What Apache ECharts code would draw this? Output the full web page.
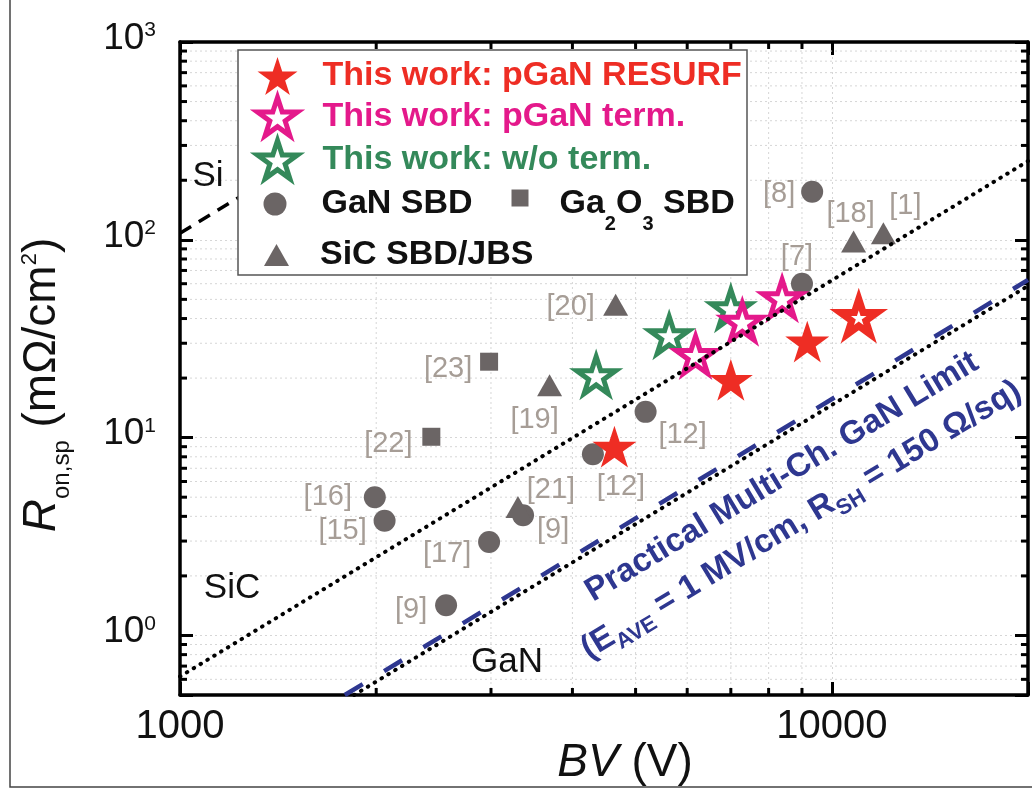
<!DOCTYPE html>
<html>
<head>
<meta charset="utf-8">
<title>Ron,sp vs BV</title>
<script src="https://cdn.jsdelivr.net/npm/echarts@6/dist/echarts.min.js"></script>
<style>
  html, body { margin: 0; padding: 0; background: #fff; }
  #main { width: 1032px; height: 790px; }
</style>
</head>
<body>
<div id="main"></div>
<script>
// data: [BV (V), Ron,sp (mOhm cm2)]
var resurfPts = [[4640, 9.0], [7000, 19.6], [9170, 30.6], [11000, 40.9]];
var termPts = [[6180, 26.2], [7290, 38.6], [8390, 50.7]];
var noTermPts = [[4350, 20.7], [5630, 33.0], [7000, 45.1]];

var ganSbdPts = [[1990, 5.0], [2060, 3.8], [2560, 1.42], [2980, 2.97], [3360, 4.05], [4300, 8.25], [5180, 13.5], [9000, 60], [9330, 175]];
var ganSbdRefs = ['[16]', '[15]', '[9]', '[17]', '[9]', '[12]', '[12]', '[7]', '[8]'];
var ga2o3Pts = [[2430, 10.1], [2980, 24.2]];
var ga2o3Refs = ['[22]', '[23]'];
var sicPts = [[3300, 4.46], [3690, 18.4], [4660, 46.9], [10800, 98], [12000, 108]];
var sicRefs = ['[21]', '[19]', '[20]', '[18]', '[1]'];

// limit lines (end points)
var siLine = [[1000, 108], [1400, 212]];
var sicLine = [[1000, 0.62], [20000, 250]];
var ganLine = [[1850, 0.5], [20000, 58.5]];
var practicalLine = [[1790, 0.5], [20000, 62.7]];

var xMinorTicks = [2000, 3000, 4000, 5000, 6000, 7000, 8000, 9000];
var yMinorTicks = [0.6, 0.7, 0.8, 0.9, 2, 3, 4, 5, 6, 7, 8, 9, 20, 30, 40, 50, 60, 70, 80, 90, 200, 300, 400, 500, 600, 700, 800, 900];

// label placement (offset from the marker, px)
var ganSbdLabelOff = [[-47, 0], [-42, 10], [-35, 5], [-42, 12], [30, 15], [28, 33], [37, 23], [-5, -27], [-33, 2]];
var ga2o3LabelOff = [[-43, 7], [-41, 7]];
var sicLabelOff = [[33, -17], [-15, 35], [-45, 2], [-3, -28], [22, -27]];
var resurfHollowIdx = 3;

var FONT = '"Liberation Sans", Arial, Helvetica, sans-serif';
var RED = '#ee2d24', MAG = '#e4198b', GRN = '#34895a', GRAY = '#6b6565', REFC = '#a69d96', BLUE = '#2e3790';
var STAR = 'path://M50 0L61.23 34.55L97.55 34.55L68.17 55.9L79.39 90.45L50 69.1L20.61 90.45L31.83 55.9L2.45 34.55L38.77 34.55Z';
var ANG = 31.2 * Math.PI / 180;

function isPow10(v) {
  var l = Math.log10(v);
  return Math.abs(l - Math.round(l)) < 1e-6;
}

function refData(pts, refs, offs) {
  return pts.map(function (p, i) {
    return { value: p, name: refs[i], label: { offset: offs[i] } };
  });
}

function renderXMinor(params, api) {
  var cs = params.coordSys;
  var x = api.coord([api.value(0), api.value(1)])[0];
  var top = cs.y, bot = cs.y + cs.height;
  return { type: 'group', children: [
    { type: 'line', shape: { x1: x, y1: top, x2: x, y2: bot }, style: { stroke: '#d6d6d6', lineWidth: 1, lineDash: [2, 3] } },
    { type: 'line', shape: { x1: x, y1: bot, x2: x, y2: bot - 7 }, style: { stroke: '#000', lineWidth: 3 } },
    { type: 'line', shape: { x1: x, y1: top, x2: x, y2: top + 7 }, style: { stroke: '#000', lineWidth: 3 } }
  ]};
}

function renderYMinor(params, api) {
  var cs = params.coordSys;
  var y = api.coord([api.value(0), api.value(1)])[1];
  var l = cs.x, r = cs.x + cs.width;
  return { type: 'group', children: [
    { type: 'line', shape: { x1: l, y1: y, x2: r, y2: y }, style: { stroke: '#d6d6d6', lineWidth: 1, lineDash: [2, 3] } },
    { type: 'line', shape: { x1: l, y1: y, x2: l + 7, y2: y }, style: { stroke: '#000', lineWidth: 3 } },
    { type: 'line', shape: { x1: r, y1: y, x2: r - 7, y2: y }, style: { stroke: '#000', lineWidth: 3 } }
  ]};
}

var refLabel = {
  show: true, position: 'inside', formatter: '{b}',
  color: REFC, fontSize: 29, fontFamily: FONT
};

var axisLineStyle = { color: '#000', width: 3.5 };
var majorTick = { inside: true, length: 13, lineStyle: { color: '#000', width: 3 } };
var gridDots = { show: true, lineStyle: { color: '#d6d6d6', width: 1, type: [2, 3] } };

var legendText = { fontSize: 34, fontWeight: 'bold', fontFamily: FONT, color: '#111' };

var chart = echarts.init(document.getElementById('main'));

var option = {
  animation: false,
  backgroundColor: '#fff',
  grid: { left: 180, right: 4, top: 42, bottom: 95, outerBoundsMode: 'none' },
  xAxis: [
    {
      type: 'log', logBase: 10, min: 1000, max: 20000, position: 'bottom',
      axisLine: { lineStyle: axisLineStyle },
      axisTick: majorTick,
      splitLine: gridDots,
      axisLabel: {
        margin: 12, fontSize: 40, fontFamily: FONT, color: '#111',
        formatter: function (v) { return isPow10(v) ? String(Math.round(v)) : ''; }
      }
    },
    {
      type: 'log', logBase: 10, min: 1000, max: 20000, position: 'top',
      axisLine: { lineStyle: axisLineStyle },
      axisTick: majorTick,
      axisLabel: { show: false },
      splitLine: { show: false }
    }
  ],
  yAxis: [
    {
      type: 'log', logBase: 10, min: 0.5, max: 1000, position: 'left',
      axisLine: { lineStyle: axisLineStyle },
      axisTick: majorTick,
      splitLine: gridDots,
      axisLabel: {
        margin: 24, color: '#111',
        formatter: function (v) {
          if (!isPow10(v)) return '';
          return '{b|10}{e|' + Math.round(Math.log10(v)) + '}';
        },
        rich: {
          b: { fontSize: 37, fontFamily: FONT, color: '#111', lineHeight: 44, verticalAlign: 'top' },
          e: { fontSize: 21, fontFamily: FONT, color: '#111', lineHeight: 22, verticalAlign: 'top' }
        }
      }
    },
    {
      type: 'log', logBase: 10, min: 0.5, max: 1000, position: 'right',
      axisLine: { lineStyle: axisLineStyle },
      axisTick: majorTick,
      axisLabel: { show: false },
      splitLine: { show: false }
    }
  ],
  legend: [
    {
      z: 20, left: 255, top: 57, orient: 'vertical', padding: 0, itemGap: 0,
      itemWidth: 40, itemHeight: 40, selectedMode: false,
      textStyle: Object.assign({ padding: [0, 0, 0, 20] }, legendText),
      data: [
        { name: 'This work: pGaN RESURF', icon: STAR, textStyle: { color: RED },
          itemStyle: { color: RED, borderWidth: 0 } },
        { name: 'This work: pGaN term.', icon: STAR, textStyle: { color: MAG },
          itemStyle: { color: '#fff', borderColor: MAG, borderWidth: 5 } },
        { name: 'This work: w/o term.', icon: STAR, textStyle: { color: GRN },
          itemStyle: { color: '#fff', borderColor: GRN, borderWidth: 5 } }
      ]
    },
    {
      z: 20, left: 263.5, top: 187, padding: 0, itemWidth: 23, itemHeight: 23, selectedMode: false,
      textStyle: Object.assign({ padding: [0, 0, 0, 30] }, legendText),
      data: [{ name: 'GaN SBD', icon: 'circle', itemStyle: { color: GRAY } }]
    },
    {
      z: 20, left: 511.5, top: 178, padding: 0, itemWidth: 17, itemHeight: 17, selectedMode: false,
      textStyle: Object.assign({ padding: [0, 0, 0, 26] }, legendText, {
        rich: {
          t: { fontSize: 34, fontWeight: 'bold', fontFamily: FONT, color: '#111', lineHeight: 40, padding: [9, 0, 0, 0], verticalAlign: 'top' },
          s: { fontSize: 20, fontWeight: 'bold', fontFamily: FONT, color: '#111', lineHeight: 20, padding: [36, 0, 0, 0], verticalAlign: 'top' }
        }
      }),
      formatter: function () { return '{t|Ga}{s|2}{t|O}{s|3}{t| SBD}'; },
      data: [{ name: 'Ga2O3 SBD', icon: 'rect', itemStyle: { color: GRAY } }]
    },
    {
      z: 20, left: 264, top: 238, padding: 0, itemWidth: 25, itemHeight: 22, selectedMode: false,
      textStyle: Object.assign({ padding: [0, 0, 0, 26] }, legendText),
      data: [{ name: 'SiC SBD/JBS', icon: 'triangle', itemStyle: { color: GRAY } }]
    }
  ],
  graphic: [
    // outer figure frame
    { type: 'rect', silent: true, z: 0, shape: { x: 10, y: -5, width: 1030, height: 792 },
      style: { fill: 'none', stroke: '#444', lineWidth: 1.5 } },
    // legend box
    { type: 'rect', silent: true, z: 10, shape: { x: 238, y: 50, width: 509, height: 225 },
      style: { fill: '#fff', stroke: '#555', lineWidth: 1.5 } },
    // y title
    { type: 'text', silent: true, z: 10, x: 47, y: 385, rotation: Math.PI / 2,
      style: {
        text: '{i|R}{s|on,sp}{m| (mΩ/cm}{p|2}{m|)}',
        align: 'center', verticalAlign: 'middle', fill: '#111',
        rich: {
          i: { fontSize: 46, fontStyle: 'italic', fontFamily: FONT, fill: '#111', lineHeight: 56, verticalAlign: 'top' },
          s: { fontSize: 24, fontFamily: FONT, fill: '#111', lineHeight: 24, padding: [31, 0, 0, 0], verticalAlign: 'top' },
          m: { fontSize: 46, fontFamily: FONT, fill: '#111', lineHeight: 56, verticalAlign: 'top' },
          p: { fontSize: 22, fontFamily: FONT, fill: '#111', lineHeight: 22, verticalAlign: 'top' }
        }
      } },
    // x title
    { type: 'text', silent: true, z: 10, x: 625, y: 763,
      style: {
        text: '{i|BV}{m| (V)}', align: 'center', verticalAlign: 'middle', fill: '#111',
        rich: {
          i: { fontSize: 46, fontStyle: 'italic', fontFamily: FONT, fill: '#111', lineHeight: 52 },
          m: { fontSize: 46, fontFamily: FONT, fill: '#111', lineHeight: 52 }
        }
      } },
    // material labels
    { type: 'text', silent: true, z: 10, x: 208, y: 176,
      style: { text: 'Si', fontSize: 35, fontFamily: FONT, fill: '#111', align: 'center', verticalAlign: 'middle' } },
    { type: 'text', silent: true, z: 10, x: 232, y: 588,
      style: { text: 'SiC', fontSize: 35, fontFamily: FONT, fill: '#111', align: 'center', verticalAlign: 'middle' } },
    { type: 'text', silent: true, z: 10, x: 507, y: 662,
      style: { text: 'GaN', fontSize: 35, fontFamily: FONT, fill: '#111', align: 'center', verticalAlign: 'middle' } },
    // practical limit annotation
    { type: 'text', silent: true, z: 10, x: 782, y: 477, rotation: ANG,
      style: { text: 'Practical Multi-Ch. GaN Limit', fontSize: 33, fontWeight: 'bold', fontFamily: FONT,
        fill: BLUE, align: 'center', verticalAlign: 'middle' } },
    { type: 'text', silent: true, z: 10, x: 803, y: 523, rotation: ANG,
      style: {
        text: '{m|(E}{s|AVE}{m| = 1 MV/cm, R}{s|SH}{m| = 150 Ω/sq)}',
        align: 'center', verticalAlign: 'middle', fill: BLUE,
        rich: {
          m: { fontSize: 33, fontWeight: 'bold', fontFamily: FONT, fill: BLUE, lineHeight: 40, verticalAlign: 'top' },
          s: { fontSize: 22, fontWeight: 'bold', fontFamily: FONT, fill: BLUE, lineHeight: 22, padding: [17, 0, 0, 0], verticalAlign: 'top' }
        }
      } }
  ],
  series: [
    { type: 'custom', silent: true, z: 1, renderItem: renderXMinor,
      data: xMinorTicks.map(function (v) { return [v, 1]; }) },
    { type: 'custom', silent: true, z: 1, renderItem: renderYMinor,
      data: yMinorTicks.map(function (v) { return [1000, v]; }) },

    { name: 'Si limit', type: 'line', data: siLine, symbol: 'none', silent: true,
      lineStyle: { color: '#000', width: 3.5, type: [13, 9] } },
    { name: 'SiC limit', type: 'line', data: sicLine, symbol: 'none', silent: true,
      lineStyle: { color: '#000', width: 4, type: [0.5, 7.5], cap: 'round' } },
    { name: 'GaN limit', type: 'line', data: ganLine, symbol: 'none', silent: true,
      lineStyle: { color: '#000', width: 4, type: [0.5, 7.5], cap: 'round' } },
    { name: 'Practical limit', type: 'line', data: practicalLine, symbol: 'none', silent: true,
      lineStyle: { color: BLUE, width: 4.5, type: [21, 25] } },

    { name: 'GaN SBD', type: 'scatter', symbol: 'circle', symbolSize: 22,
      itemStyle: { color: GRAY, opacity: 1 }, label: refLabel,
      data: refData(ganSbdPts, ganSbdRefs, ganSbdLabelOff) },
    { name: 'Ga2O3 SBD', type: 'scatter', symbol: 'rect', symbolSize: 18,
      itemStyle: { color: GRAY, opacity: 1 }, label: refLabel,
      data: refData(ga2o3Pts, ga2o3Refs, ga2o3LabelOff) },
    { name: 'SiC SBD/JBS', type: 'scatter', symbol: 'triangle', symbolSize: [25, 22],
      itemStyle: { color: GRAY, opacity: 1 }, label: refLabel,
      data: refData(sicPts, sicRefs, sicLabelOff) },

    { name: 'This work: w/o term.', type: 'scatter', symbol: STAR, symbolSize: 39, symbolKeepAspect: true,
      itemStyle: { color: '#fff', borderColor: GRN, borderWidth: 5, opacity: 1 },
      data: noTermPts },
    { name: 'This work: pGaN term.', type: 'scatter', symbol: STAR, symbolSize: 39, symbolKeepAspect: true,
      itemStyle: { color: '#fff', borderColor: MAG, borderWidth: 5, opacity: 1 },
      data: termPts },
    { name: 'This work: pGaN RESURF', type: 'scatter', symbol: STAR, symbolSize: 44, symbolKeepAspect: true,
      itemStyle: { color: RED, opacity: 1 },
      data: resurfPts.map(function (p, i) {
        if (i === resurfHollowIdx) {
          return { value: p, symbolSize: 37, itemStyle: { color: '#fff', borderColor: RED, borderWidth: 7 } };
        }
        return { value: p };
      }) }
  ]
};

chart.setOption(option);
</script>
</body>
</html>
